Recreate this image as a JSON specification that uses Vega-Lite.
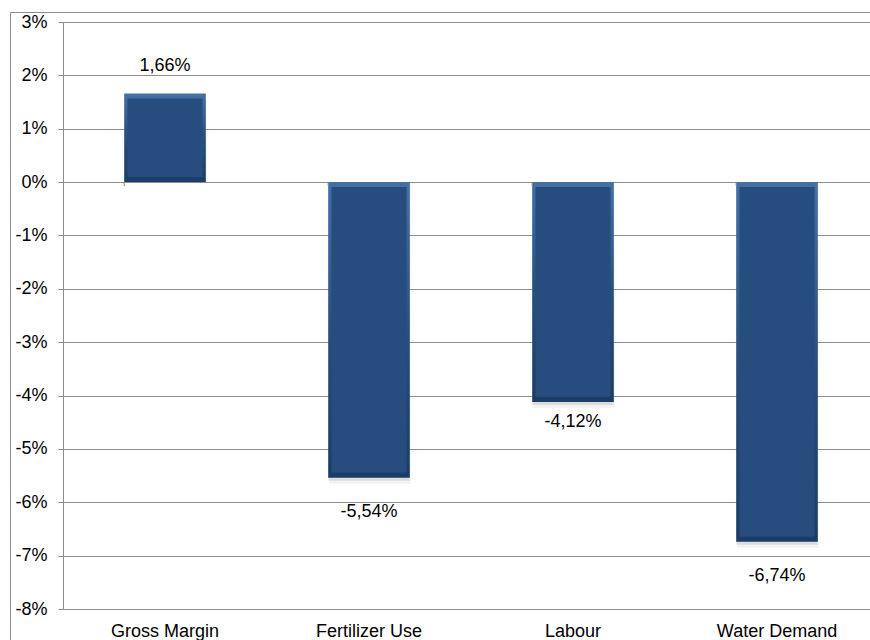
{
  "$schema": "https://vega.github.io/schema/vega-lite/v6.json",
  "autosize": "none",
  "width": 870,
  "height": 640,
  "padding": {"left": 10, "top": 12, "right": -10, "bottom": -12},
  "data": {
    "values": [
      {"measure": "Gross Margin", "change": 0.0166},
      {"measure": "Fertilizer Use", "change": -0.0554},
      {"measure": "Labour", "change": -0.0412},
      {"measure": "Water Demand", "change": -0.0674}
    ]
  },
  "encoding": {
    "x": {
      "field": "measure",
      "type": "nominal",
      "sort": null,
      "scale": {"range": [53, 869], "paddingInner": 0.6, "paddingOuter": 0.3},
      "axis": {
        "orient": "bottom",
        "offset": -43,
        "title": null,
        "domain": false,
        "ticks": false,
        "tickSize": 0,
        "grid": false,
        "labelPadding": 13,
        "labelAngle": 0,
        "labelFont": "Liberation Sans",
        "labelFontSize": 18,
        "labelColor": "#000000"
      }
    },
    "y": {
      "field": "change",
      "type": "quantitative",
      "scale": {"domain": [-0.08, 0.03], "range": [597, 10], "nice": false, "zero": false},
      "axis": {
        "values": [-0.08, -0.07, -0.06, -0.05, -0.04, -0.03, -0.02, -0.01, 0, 0.01, 0.02, 0.03],
        "format": ".0%",
        "offset": -53,
        "title": null,
        "grid": true,
        "gridColor": "#8c8c8c",
        "gridWidth": 1,
        "gridOpacity": 1,
        "domainColor": "#8c8c8c",
        "domainWidth": 1,
        "tickColor": "#8c8c8c",
        "tickSize": 5,
        "labelPadding": 11,
        "labelFont": "Liberation Sans",
        "labelFontSize": 18,
        "labelColor": "#000000"
      }
    }
  },
  "layer": [
    {
      "mark": {"type": "bar", "color": "#9a9a9a", "opacity": 0.12, "yOffset": 6, "xOffset": 1},
      "encoding": {"y2": {"datum": 0}}
    },
    {
      "mark": {"type": "bar", "color": "#808080", "opacity": 0.2, "yOffset": 3},
      "encoding": {"y2": {"datum": 0}}
    },
    {
      "mark": {
        "type": "bar",
        "color": {
          "gradient": "linear",
          "x1": 0, "y1": 0, "x2": 0, "y2": 1,
          "stops": [
            {"offset": 0, "color": "#4470a6"},
            {"offset": 0.5, "color": "#284f81"},
            {"offset": 1, "color": "#1b3c66"}
          ]
        }
      },
      "encoding": {"y2": {"datum": 0}}
    },
    {
      "transform": [{"filter": "datum.change > 0"}],
      "mark": {"type": "bar", "color": "#264d7d", "width": {"band": 0.92}, "yOffset": 5, "y2Offset": -5},
      "encoding": {"y2": {"datum": 0}}
    },
    {
      "transform": [{"filter": "datum.change < 0"}],
      "mark": {"type": "bar", "color": "#264d7d", "width": {"band": 0.92}, "yOffset": -5, "y2Offset": 5},
      "encoding": {"y2": {"datum": 0}}
    },
    {
      "transform": [{"filter": "datum.change > 0"}],
      "mark": {"type": "text", "baseline": "alphabetic", "dy": -23, "font": "Liberation Sans", "fontSize": 18, "color": "#000000"},
      "encoding": {"text": {"field": "change", "type": "quantitative", "format": ".2%"}}
    },
    {
      "transform": [{"filter": "datum.change < 0 && datum.measure != 'Labour'"}],
      "mark": {"type": "text", "baseline": "alphabetic", "dy": 39, "font": "Liberation Sans", "fontSize": 18, "color": "#000000"},
      "encoding": {"text": {"field": "change", "type": "quantitative", "format": ".2%"}}
    },
    {
      "transform": [{"filter": "datum.measure == 'Labour'"}],
      "mark": {"type": "text", "baseline": "alphabetic", "dy": 25, "font": "Liberation Sans", "fontSize": 18, "color": "#000000"},
      "encoding": {"text": {"field": "change", "type": "quantitative", "format": ".2%"}}
    },
    {
      "mark": {"type": "rule", "color": "#8c8c8c", "strokeWidth": 1, "y2Offset": 4},
      "encoding": {
        "x": {"field": "measure", "type": "nominal", "sort": null, "bandPosition": 0},
        "y": {"datum": 0},
        "y2": {"datum": 0}
      }
    }
  ],
  "config": {
    "view": {"stroke": "#8c8c8c", "strokeWidth": 1},
    "locale": {
      "number": {
        "decimal": ",",
        "thousands": ".",
        "grouping": [3],
        "currency": ["", " €"],
        "minus": "-",
        "percent": "%"
      }
    }
  }
}
